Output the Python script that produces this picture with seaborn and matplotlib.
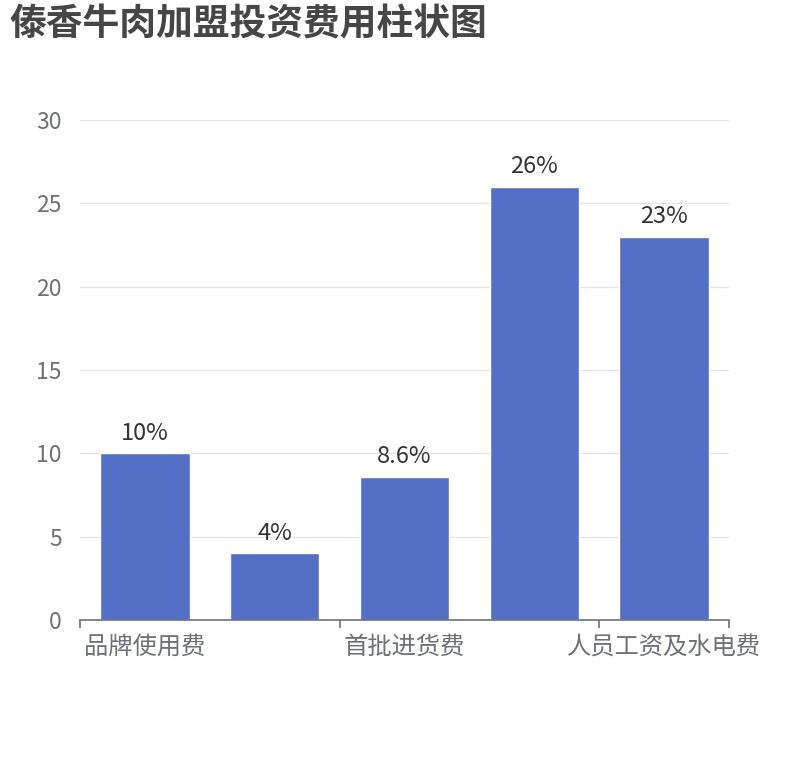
import matplotlib
matplotlib.use("Agg")
import matplotlib.pyplot as plt
import seaborn as sns
import pandas as pd

categories = ["品牌使用费", "加盟保证金", "首批进货费", "店面租金装修", "人员工资及水电费"]
values = [10, 4, 8.6, 26, 23]
value_labels = ["10%", "4%", "8.6%", "26%", "23%"]
title = "傣香牛肉加盟投资费用柱状图"

sns.set_theme(style="white")
plt.rcParams["font.family"] = ["Noto Sans CJK SC", "DejaVu Sans"]

df = pd.DataFrame({"cat": categories, "val": values})

fig = plt.figure(figsize=(8.1, 7.6), dpi=100)
ax = fig.add_axes([80 / 810, 1 - 620 / 760, 649 / 810, 500 / 760])

sns.barplot(data=df, x="cat", y="val", color="#5470c6", saturation=1,
            width=0.69, ax=ax, order=categories)

ax.set_ylim(0, 30)
ax.set_xlim(-0.5, len(categories) - 0.5)
ax.set_yticks([0, 5, 10, 15, 20, 25, 30])
ax.yaxis.grid(True, color="#E0E6F1", linewidth=1)
ax.set_axisbelow(True)
ax.tick_params(axis="y", length=0, pad=13, labelsize=16.5, labelcolor="#6E7079")

ax.set_xticks(range(len(categories)))
ax.set_xticklabels([c if i % 2 == 0 else "" for i, c in enumerate(categories)])
ax.tick_params(axis="x", which="major", bottom=True, length=0, pad=10,
               labelsize=17.5, labelcolor="#6E7079")
ax.set_xticks([-0.5, 1.5, 3.5, 4.5], minor=True)
ax.tick_params(axis="x", which="minor", bottom=True, length=6, width=1.2,
               color="#6E7079", direction="out")

for s in ["top", "right", "left"]:
    ax.spines[s].set_visible(False)
ax.spines["bottom"].set_color("#6E7079")
ax.spines["bottom"].set_linewidth(1.2)
ax.set_xlabel("")
ax.set_ylabel("")

ax.bar_label(ax.containers[0], labels=value_labels, padding=6,
             fontsize=17, color="#333333")

fig.text(10 / 810, 1 - 25 / 760, title, fontsize=26.5, fontweight="bold",
         color="#464646", va="center", ha="left")

fig.savefig("out.png", dpi=100)
